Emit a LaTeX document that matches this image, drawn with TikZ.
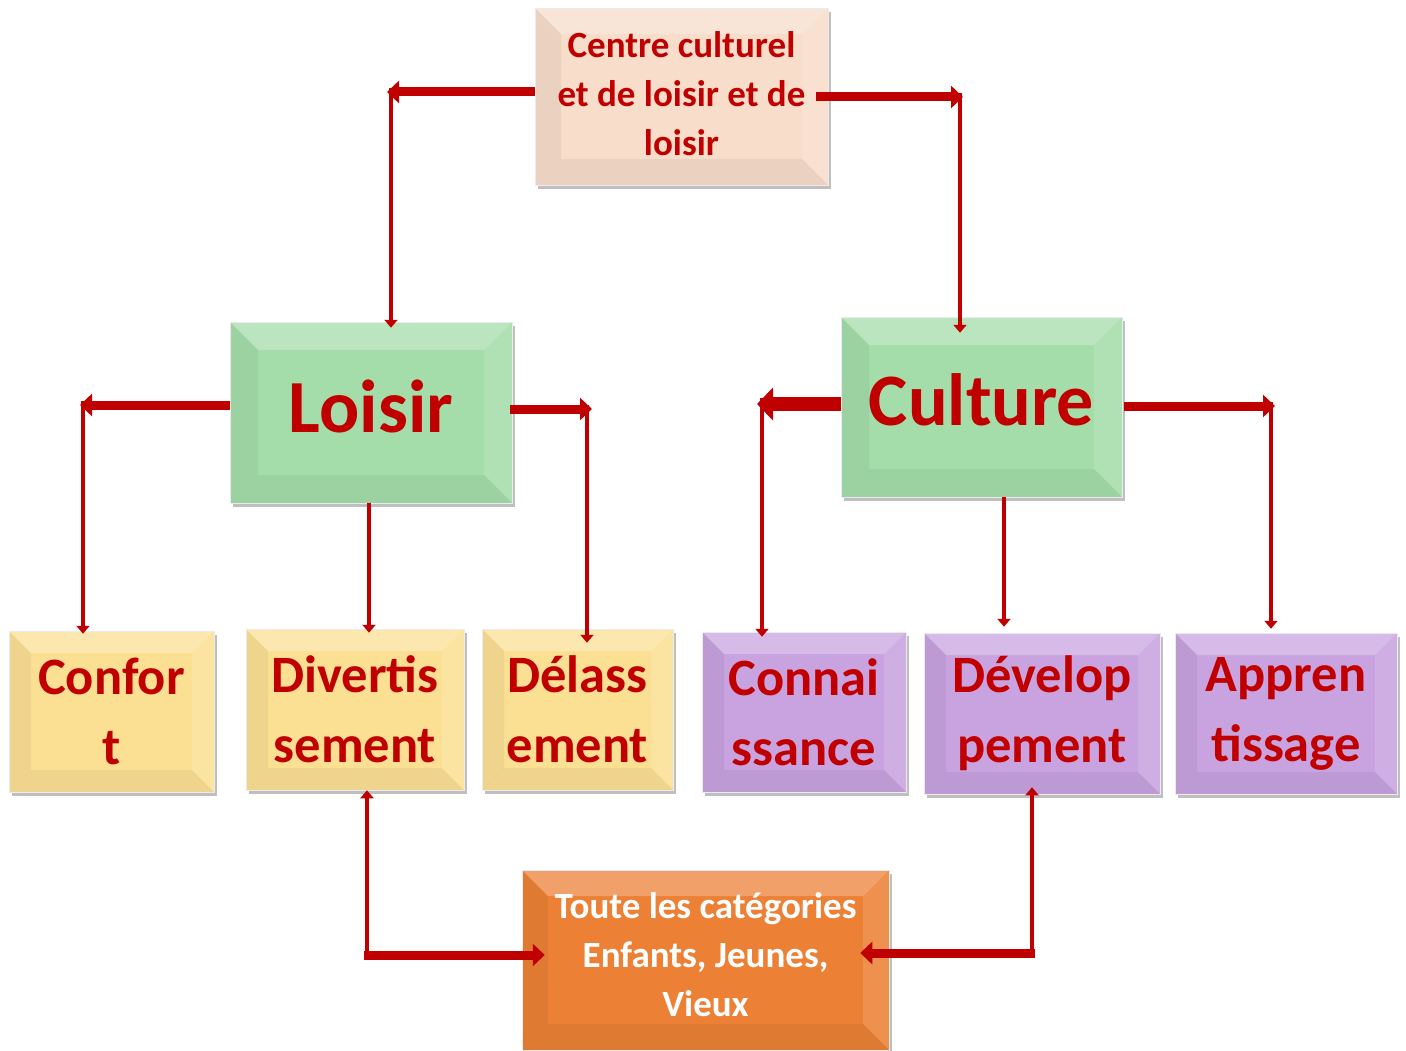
\documentclass[tikz,border=0pt]{standalone}
\usepackage{fontspec}
\setmainfont{Carlito}
\usetikzlibrary{arrows.meta,shadows}
\definecolor{dred}{HTML}{C00000}
\definecolor{peach}{HTML}{F8DDCB}
\definecolor{mint}{HTML}{A5DDAA}
\definecolor{sand}{HTML}{FBE094}
\definecolor{lilac}{HTML}{C9A3E0}
\definecolor{tang}{HTML}{EC8136}
\tikzset{
  bevelbox/.style={rectangle, inner sep=0pt, align=center, text=dred,
    drop shadow={shadow xshift=3pt, shadow yshift=-4pt, opacity=0.25, fill=black},
    draw=black!8, line width=0.5pt,
    path picture={
      \def\b{#1}
      \path (path picture bounding box.north west) coordinate (pnw)
            (path picture bounding box.north east) coordinate (pne)
            (path picture bounding box.south west) coordinate (psw)
            (path picture bounding box.south east) coordinate (pse);
      \fill[white,opacity=0.25] (pnw) -- (pne) -- ([xshift=-\b,yshift=-\b]pne) -- ([xshift=\b,yshift=-\b]pnw) -- cycle;
      \fill[black,opacity=0.05] (pnw) -- ([xshift=\b,yshift=-\b]pnw) -- ([xshift=\b,yshift=\b]psw) -- (psw) -- cycle;
      \fill[white,opacity=0.12] (pne) -- ([xshift=-\b,yshift=-\b]pne) -- ([xshift=-\b,yshift=\b]pse) -- (pse) -- cycle;
      \fill[black,opacity=0.05] (psw) -- ([xshift=\b,yshift=\b]psw) -- ([xshift=-\b,yshift=\b]pse) -- (pse) -- cycle;
    }},
  bevelbox/.default=22pt,
  loisirtxt/.style={font=\bfseries\fontsize{75}{80}\selectfont},
  culturetxt/.style={font=\bfseries\fontsize{74}{80}\selectfont},
  midtxt/.style={font=\bfseries\fontsize{52.5}{70}\selectfont},
  smalltxt/.style={font=\bfseries\fontsize{37}{49}\selectfont, align=center, inner sep=0pt},
  harrow/.style={draw=dred, line width=9pt, -{Triangle[length=12pt,width=22pt]}},
  harrowthick/.style={draw=dred, line width=14pt, -{Triangle[length=16pt,width=32pt]}},
  varrow/.style={draw=dred, line width=4.5pt, -{Triangle[length=8pt,width=13pt]}},
}
\begin{document}
\begin{tikzpicture}[x=1pt,y=-1pt]
\useasboundingbox (0,0) rectangle (1406,1051);
% boxes
\node[bevelbox=26pt, fill=peach, minimum width=293pt, minimum height=177pt] (top) at (681.5,96.5) {};
\node[smalltxt, text=dred] (toptxt) at ([yshift=3pt]top.center)
  {Centre culturel\\et de loisir et de\\loisir};
\node[bevelbox=28pt, fill=mint, minimum width=282pt, minimum height=181pt, loisirtxt] (loisir) at (371,412.5)
  {\raisebox{12pt}{Loisir}};
\node[bevelbox=28pt, fill=mint, minimum width=281pt, minimum height=180pt, culturetxt] (culture) at (981.5,407)
  {\raisebox{14pt}{Culture}};
\node[bevelbox, fill=sand, minimum width=205pt, minimum height=161pt, midtxt] (confort) at (111.5,711.5)
  {Confor\\t};
\node[bevelbox, fill=sand, minimum width=218pt, minimum height=161pt, midtxt] (divert) at (355,709.5)
  {Divertis\\sement};
\node[bevelbox, fill=sand, minimum width=191pt, minimum height=161pt, midtxt] (delass) at (577.5,709.5)
  {Délass\\ement};
\node[bevelbox, fill=lilac, minimum width=204pt, minimum height=160pt, midtxt] (connais) at (804,712)
  {Connai\\ssance};
\node[bevelbox, fill=lilac, minimum width=236pt, minimum height=161pt, midtxt] (develop) at (1042,713.5)
  {Dévelop\\pement};
\node[bevelbox, fill=lilac, minimum width=222pt, minimum height=161pt, midtxt] (appren) at (1286,713.5)
  {Appren\\tissage};
\node[bevelbox=26pt, fill=tang, minimum width=367pt, minimum height=180pt] (toute) at (705.5,960) {};
\node[smalltxt, text=white] (toutetxt) at ([yshift=5pt]toute.center)
  {Toute les catégories\\Enfants, Jeunes,\\Vieux};
% corner coordinates
\coordinate (c1) at (391,92);
\coordinate (c2) at (960,97);
\coordinate (c3) at (83,405);
\coordinate (c4) at (587,409);
\coordinate (c6) at (762,404);
\coordinate (c7) at (1271,406);
\coordinate (c9) at (367,955);
\coordinate (c10) at (1032,953);
% Centre -> Loisir
\draw[harrow] (top.west |- c1) -- ([xshift=-4pt]c1);
\draw[varrow] ([yshift=4pt]c1) -- ([yshift=-6pt]loisir.north -| c1);
% Centre -> Culture
\draw[harrow] ([xshift=-12pt]top.east |- c2) -- ([xshift=3pt]c2);
\draw[varrow] ([yshift=4pt]c2) -- ([yshift=-16pt]culture.north -| c2);
% Loisir -> Confort
\draw[harrow] (loisir.west |- c3) -- ([xshift=-3pt]c3);
\draw[varrow] ([yshift=4pt]c3) -- ([yshift=-3pt]confort.north -| c3);
% Loisir -> Delassement
\draw[harrow] ([xshift=-2pt]loisir.east |- c4) -- ([xshift=5pt]c4);
\draw[varrow] ([yshift=4pt]c4) -- ([yshift=-14pt]delass.north -| c4);
% Loisir -> Divertissement
\draw[varrow] (loisir.south -| 369,0) -- ([yshift=-4pt]divert.north -| 369,0);
% Culture -> Connaissance
\draw[harrowthick] (culture.west |- c6) -- ([xshift=-5pt]c6);
\draw[varrow] ([yshift=6pt]c6) -- ([yshift=-5pt]connais.north -| c6);
% Culture -> Apprentissage
\draw[harrow] ([xshift=2pt]culture.east |- c7) -- ([xshift=4pt]c7);
\draw[varrow] ([yshift=4pt]c7) -- ([yshift=4pt]appren.north -| c7);
% Culture -> Developpement
\draw[varrow] (culture.south -| 1004,0) -- ([yshift=6pt]develop.north -| 1004,0);
% Divertissement -> Toute
\draw[varrow] ([yshift=2pt]c9) -- (divert.south -| c9);
\draw[harrow] ([xshift=-3pt]c9) -- ([xshift=23pt]toute.west |- c9);
% Developpement -> Toute
\draw[varrow] ([yshift=2pt]c10) -- ([yshift=7pt]develop.south -| c10);
\draw[harrow] ([xshift=3pt]c10) -- ([xshift=-29pt]toute.east |- c10);
\end{tikzpicture}
\end{document}
